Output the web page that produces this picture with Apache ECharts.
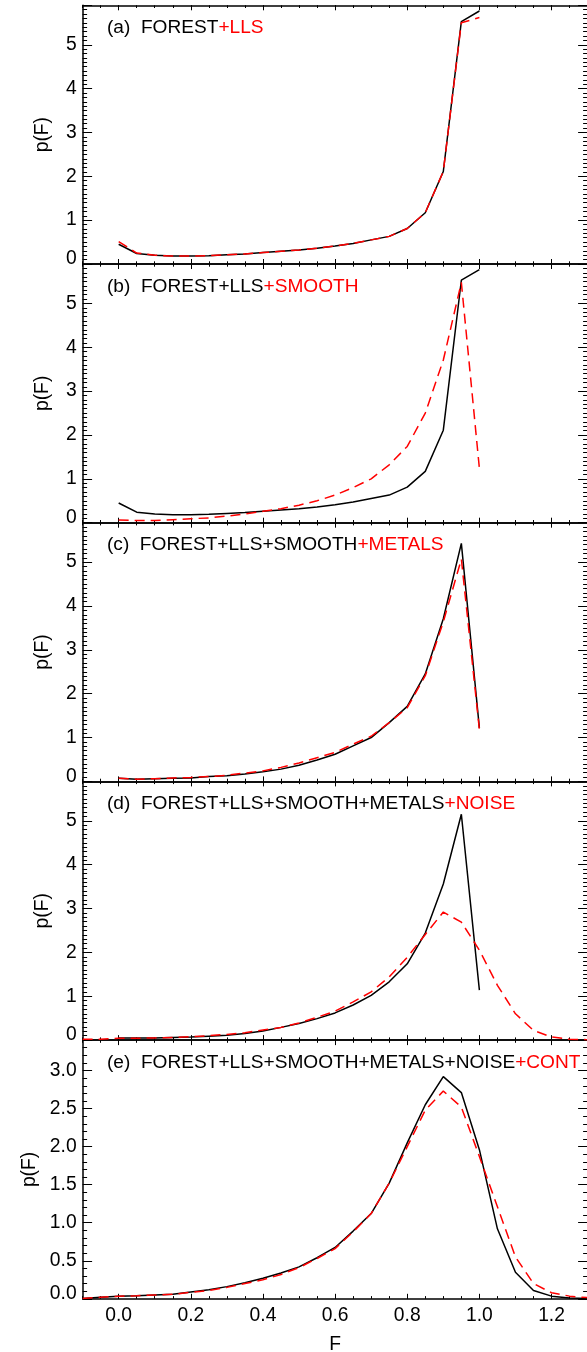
<!DOCTYPE html>
<html><head><meta charset="utf-8">
<script src="https://cdn.jsdelivr.net/npm/echarts@6/dist/echarts.min.js"></script>
<style>html,body{margin:0;padding:0;background:#fff}#c{width:587px;height:1352px}</style>
</head><body><div id="c"></div>
<script>
// ---------- DATA ----------
const F_SHORT = [0.00,0.05,0.10,0.15,0.20,0.25,0.30,0.35,0.40,0.45,0.50,0.55,0.60,0.65,0.70,0.75,0.80,0.85,0.90,0.95,1.00];
const F_LONG = [-0.10,-0.05,0.00,0.05,0.10,0.15,0.20,0.25,0.30,0.35,0.40,0.45,0.50,0.55,0.60,0.65,0.70,0.75,0.80,0.85,0.90,0.95,1.00,1.05,1.10,1.15,1.20,1.25,1.30];

// (a) FOREST (black) and FOREST+LLS (red)
const A_BLACK = [0.45,0.24,0.20,0.18,0.18,0.19,0.21,0.23,0.26,0.29,0.32,0.36,0.41,0.47,0.55,0.63,0.81,1.17,2.11,5.53,5.77];
const A_RED   = [0.51,0.25,0.20,0.18,0.18,0.19,0.21,0.23,0.26,0.29,0.32,0.36,0.41,0.47,0.55,0.63,0.81,1.17,2.11,5.50,5.62];
// (b) FOREST+LLS (black) and +SMOOTH (red)
const B_BLACK = [0.45,0.24,0.20,0.18,0.18,0.19,0.21,0.23,0.26,0.29,0.32,0.36,0.41,0.47,0.55,0.63,0.81,1.17,2.11,5.53,5.77];
const B_RED   = [0.06,0.05,0.05,0.07,0.09,0.11,0.15,0.20,0.26,0.32,0.40,0.50,0.63,0.80,1.00,1.32,1.74,2.50,3.71,5.48,1.24];
// (c) FOREST+LLS+SMOOTH (black) and +METALS (red)
const C_BLACK = [0.07,0.05,0.06,0.07,0.08,0.11,0.13,0.17,0.22,0.28,0.37,0.49,0.62,0.81,1.00,1.34,1.71,2.45,3.71,5.43,1.22];
const C_RED   = [0.07,0.05,0.06,0.08,0.09,0.11,0.14,0.19,0.24,0.32,0.42,0.54,0.66,0.85,1.03,1.34,1.68,2.41,3.64,5.07,1.18];
// (d) FOREST+LLS+SMOOTH+METALS (black) and +NOISE (red)
const D_BLACK = [0.05,0.05,0.05,0.06,0.07,0.09,0.11,0.15,0.21,0.29,0.38,0.49,0.62,0.80,1.02,1.33,1.74,2.44,3.56,5.15,1.14];
const D_RED   = [0.02,0.02,0.04,0.04,0.05,0.06,0.08,0.10,0.13,0.17,0.23,0.29,0.39,0.52,0.66,0.87,1.10,1.44,1.89,2.41,2.92,2.69,2.05,1.25,0.60,0.22,0.07,0.02,0.01];
// (e) FOREST+LLS+SMOOTH+METALS+NOISE (black) and +CONT (red)
const E_BLACK = [0.005,0.02,0.035,0.04,0.05,0.06,0.09,0.12,0.16,0.21,0.27,0.34,0.42,0.54,0.675,0.89,1.12,1.52,2.05,2.55,2.92,2.71,1.96,0.92,0.35,0.11,0.035,0.012,0.005];
const E_RED   = [0.005,0.02,0.035,0.04,0.05,0.06,0.085,0.11,0.15,0.20,0.25,0.32,0.41,0.53,0.66,0.88,1.12,1.52,2.00,2.48,2.73,2.52,1.87,1.21,0.55,0.20,0.08,0.035,0.015];

const X_MAJOR_TICKS = [0.0,0.2,0.4,0.6,0.8,1.0,1.2];
const X_TICK_LABELS = ['0.0','0.2','0.4','0.6','0.8','1.0','1.2'];
const Y_TICK_LABELS_AD = ['0','1','2','3','4','5'];
const Y_TICK_LABELS_E = ['0.0','0.5','1.0','1.5','2.0','2.5','3.0'];

const PANEL_TEXT = [
  ['(a)  FOREST', '+LLS'],
  ['(b)  FOREST+LLS', '+SMOOTH'],
  ['(c)  FOREST+LLS+SMOOTH', '+METALS'],
  ['(d)  FOREST+LLS+SMOOTH+METALS', '+NOISE'],
  ['(e)  FOREST+LLS+SMOOTH+METALS+NOISE', '+CONT']
];

// ---------- CHART ----------
const FONT = "'Liberation Sans', Arial, sans-serif";
const FS = 19.3;
const FS_T = 19.1;
const L = 82.6, W = 505, T0 = 5.3, H = 258.7;

const panels = [
  {bx: F_SHORT, by: A_BLACK, rx: F_SHORT, ry: A_RED, ymax: 5.9, yint: 1, ysplit: 10, labels: Y_TICK_LABELS_AD},
  {bx: F_SHORT, by: B_BLACK, rx: F_SHORT, ry: B_RED, ymax: 5.9, yint: 1, ysplit: 10, labels: Y_TICK_LABELS_AD},
  {bx: F_SHORT, by: C_BLACK, rx: F_SHORT, ry: C_RED, ymax: 5.9, yint: 1, ysplit: 10, labels: Y_TICK_LABELS_AD},
  {bx: F_SHORT, by: D_BLACK, rx: F_LONG, ry: D_RED, ymax: 5.9, yint: 1, ysplit: 10, labels: Y_TICK_LABELS_AD},
  {bx: F_LONG, by: E_BLACK, rx: F_LONG, ry: E_RED, ymax: 3.4, yint: 0.5, ysplit: 5, labels: Y_TICK_LABELS_E}
];

function zip(xs, ys) { return xs.map((x, i) => [x, ys[i]]); }
function near(a, b) { return Math.abs(a - b) < 1e-6; }

const grid = [], xAxis = [], yAxis = [], series = [], title = [];
const lineCol = '#000';

panels.forEach((p, i) => {
  const top = T0 + i * H;
  const last = i === panels.length - 1;
  grid.push({left: L, top: top, width: W, height: H, containLabel: false, outerBoundsMode: 'none'});

  // minor x ticks every 0.05 (counted from min -0.1)
  const xMinor = {
    type: 'value', gridIndex: i, min: -0.1, max: 1.3, interval: 0.05,
    splitLine: {show: false},
    axisLine: {show: true, onZero: false, lineStyle: {color: lineCol, width: 1.5}},
    axisTick: {show: true, inside: true, length: 2.7, lineStyle: {color: lineCol, width: 1}},
    axisLabel: {show: false}
  };
  // major x ticks at 0.2 multiples
  const xMajor = {
    type: 'value', gridIndex: i, min: -0.1, max: 1.3, interval: 0.05,
    splitLine: {show: false},
    axisLine: {show: false, onZero: false},
    axisTick: {show: true, inside: true, length: 5, customValues: X_MAJOR_TICKS, lineStyle: {color: lineCol, width: 1}},
    axisLabel: {show: false}
  };
  xAxis.push(Object.assign({}, xMinor, {position: 'bottom'}));
  xAxis.push(Object.assign({}, xMajor, {
    position: 'bottom',
    name: last ? 'F' : '',
    nameLocation: 'middle', nameGap: 36,
    nameTextStyle: {fontFamily: FONT, fontSize: FS, color: '#000'},
    axisLabel: last ? {
      show: true, margin: 7, fontFamily: FONT, fontSize: FS, color: '#000',
      customValues: X_MAJOR_TICKS,
      formatter: v => {
        for (let k = 0; k < X_MAJOR_TICKS.length; k++) if (near(X_MAJOR_TICKS[k], v)) return X_TICK_LABELS[k];
        return '';
      }
    } : {show: false}
  }));
  xAxis.push(Object.assign({}, xMinor, {position: 'top'}));
  xAxis.push(Object.assign({}, xMajor, {position: 'top'}));

  const yCommon = {
    type: 'value', gridIndex: i, min: 0, max: p.ymax, interval: p.yint,
    splitLine: {show: false},
    axisLine: {show: true, onZero: false, lineStyle: {color: lineCol, width: 1.5}},
    axisTick: {show: true, inside: true, length: 9.5, lineStyle: {color: lineCol, width: 1}},
    minorTick: {show: true, splitNumber: p.ysplit, length: 4.5, lineStyle: {color: lineCol, width: 1}}
  };
  const labs = p.labels;
  yAxis.push(Object.assign({}, yCommon, {
    position: 'left',
    name: 'p(F)', nameLocation: 'middle', nameGap: 30, nameRotate: 90,
    nameTextStyle: {fontFamily: FONT, fontSize: FS, color: '#000'},
    axisLabel: {
      show: true, margin: 6, fontFamily: FONT, fontSize: FS, color: '#000',
      formatter: v => {
        for (const s of labs) {
          if (near(parseFloat(s), v)) return near(v, 0) ? '{z|' + s + '}' : s;
        }
        return '';
      },
      rich: {z: {fontFamily: FONT, fontSize: FS, color: '#000', padding: [0, 0, 10, 0]}}
    }
  }));
  yAxis.push(Object.assign({}, yCommon, {position: 'right', axisLabel: {show: false}}));

  series.push({
    type: 'line', xAxisIndex: 4 * i, yAxisIndex: 2 * i, data: zip(p.bx, p.by),
    showSymbol: false, symbol: 'none', lineStyle: {color: '#000', width: 1.5}, z: 2, silent: true
  });
  series.push({
    type: 'line', xAxisIndex: 4 * i, yAxisIndex: 2 * i, data: zip(p.rx, p.ry),
    showSymbol: false, symbol: 'none', lineStyle: {color: '#ff0000', width: 1.5, type: [10, 6]}, z: 3, silent: true
  });

  title.push({
    left: 107, top: top + 13, padding: 0,
    text: '{k|' + PANEL_TEXT[i][0] + '}{r|' + PANEL_TEXT[i][1] + '}',
    textStyle: {
      fontWeight: 'normal',
      rich: {
        k: {fontFamily: FONT, fontSize: FS_T, fontWeight: 'normal', color: '#000'},
        r: {fontFamily: FONT, fontSize: FS_T, fontWeight: 'normal', color: '#ff0000'}
      }
    }
  });
});

const chart = echarts.init(document.getElementById('c'), null, {renderer: 'canvas'});
chart.setOption({animation: false, backgroundColor: '#fff', grid, xAxis, yAxis, series, title});
</script>
</body></html>
